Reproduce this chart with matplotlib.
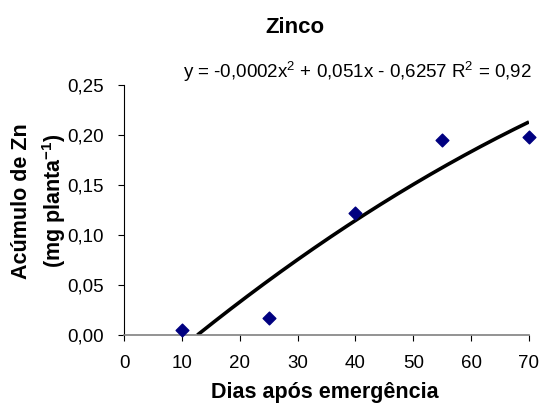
import numpy as np
import matplotlib.pyplot as plt
from matplotlib.ticker import FuncFormatter

# dados
dias = [10, 25, 40, 55, 70]
zn = [0.005, 0.017, 0.122, 0.195, 0.198]
x_ticks = [0, 10, 20, 30, 40, 50, 60, 70]
y_ticks = [0.00, 0.05, 0.10, 0.15, 0.20, 0.25]
equacao = r"y = -0,0002x$^2$ + 0,051x - 0,6257 R$^2$ = 0,92"

plt.rcParams["font.family"] = ["Liberation Sans", "DejaVu Sans"]
plt.rcParams["mathtext.fontset"] = "custom"
plt.rcParams["mathtext.rm"] = "Liberation Sans"
plt.rcParams["mathtext.bf"] = "Liberation Sans:bold"

fig = plt.figure(figsize=(5.48, 4.11), dpi=100)
ax = fig.add_axes([0.2263, 0.1849, 0.7390, 0.6083])

# ajuste polinomial de 2º grau
coef = np.polyfit(dias, zn, 2)
raizes = np.roots(coef)
x0 = min(r.real for r in raizes if 0 < r.real < 70)
xs = np.linspace(x0, 70, 200)
ax.plot(xs, np.polyval(coef, xs), color="black", lw=2.6, solid_capstyle="butt", zorder=2)

ax.scatter(dias, zn, marker="D", s=42, color="#000080", zorder=3, clip_on=False)

ax.set_xlim(0, 70)
ax.set_ylim(0, 0.25)
ax.set_xticks(x_ticks)
ax.set_yticks(y_ticks)
ax.yaxis.set_major_formatter(FuncFormatter(lambda v, p: f"{v:.2f}".replace(".", ",")))

for s in ["top", "right"]:
    ax.spines[s].set_visible(False)
ax.spines["left"].set_color("black")
ax.spines["bottom"].set_color("#808080")
ax.spines["bottom"].set_linewidth(1.2)
ax.tick_params(direction="out", length=4, width=0.8, labelsize=13.5)
ax.tick_params(axis="x", pad=10.5)
ax.tick_params(axis="y", pad=10.5)

fig.text(0.592, 0.031, "Dias após emergência", fontsize=15.5, fontweight="bold",
         ha="center", va="baseline")

fig.text(0.040, 0.511, "Acúmulo de Zn", rotation=90, fontsize=15.5, fontweight="bold",
         ha="center", va="center")
fig.text(0.099, 0.511, r"(mg planta$^{\mathbf{-1}}$)", rotation=90, fontsize=15.5, fontweight="bold",
         ha="center", va="center")

fig.text(0.538, 0.919, "Zinco", fontsize=16, fontweight="bold", ha="center", va="baseline")
fig.text(0.971, 0.810, equacao, fontsize=13.5, ha="right", va="baseline")

fig.savefig("out.png", dpi=100)
